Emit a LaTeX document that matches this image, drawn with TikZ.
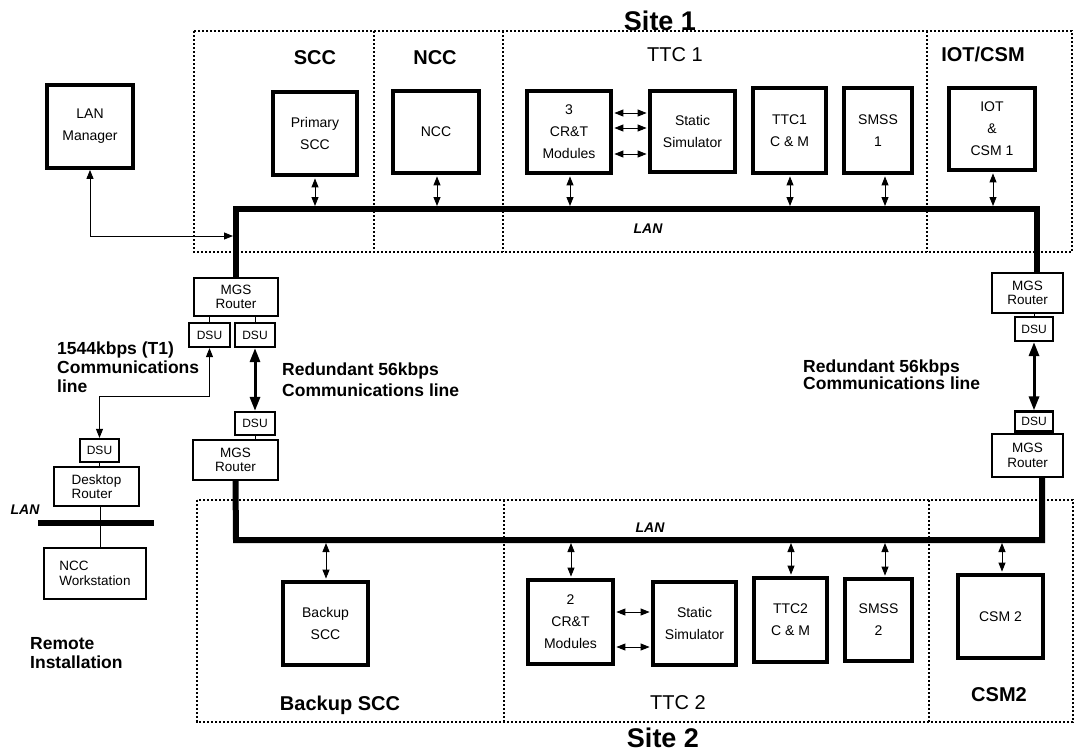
\documentclass[tikz,border=0pt]{standalone}
\usepackage{fontspec}
\setmainfont{Liberation Sans}
\usetikzlibrary{arrows.meta}
\begin{document}
\begin{tikzpicture}[x=1pt,y=-1pt,
  site/.style={draw, line width=1.4pt, dash pattern=on 2.2pt off 1.8pt},
  bigbox/.style={draw, line width=3.8pt, inner sep=0pt, align=center, font=\fontsize{14}{22}\selectfont},
  rtr/.style={draw, line width=2.2pt, inner sep=0pt, align=center, font=\fontsize{13.5}{14.5}\selectfont},
  dsu/.style={draw, line width=2.2pt, inner sep=0pt, font=\fontsize{12}{12}\selectfont},
  lan/.style={line width=6pt},
  dar/.style={{Triangle[length=9pt,width=7pt]}-{Triangle[length=9pt,width=7pt]}, line width=0.9pt},
  tdar/.style={{Triangle[length=14pt,width=10pt]}-{Triangle[length=14pt,width=10pt]}, line width=3pt},
  conn/.style={line width=0.8pt},
  hdr/.style={font=\fontsize{20}{22}\selectfont\bfseries},
  hdrr/.style={font=\fontsize{20}{22}\selectfont},
  ttl/.style={font=\fontsize{27}{29}\selectfont\bfseries},
  note/.style={font=\fontsize{17.5}{19}\selectfont\bfseries, align=left, inner sep=0pt},
  lanlbl/.style={font=\fontsize{14}{14}\selectfont\bfseries\itshape}
]
\useasboundingbox (0,0) rectangle (1076,753);

% site regions
\draw[site] (194,31) rectangle (1072,252);
\draw[site] (374,31) -- (374,252);
\draw[site] (503,31) -- (503,252);
\draw[site] (927,31) -- (927,252);
\draw[site] (197,500) rectangle (1073,722);
\draw[site] (504,500) -- (504,722);
\draw[site] (929,500) -- (929,722);

% titles and headers
\node[ttl, anchor=base, inner sep=0pt] (site1) at (660,30) {Site 1};
\node[ttl, anchor=base, inner sep=0pt] (site2) at (663,747) {Site 2};
\node[hdr] (hscc) at (315,58) {SCC};
\node[hdr] (hncc) at (435,58) {NCC};
\node[hdrr] (httc1) at (675,55) {TTC 1};
\node[hdr] (hiot) at (983,54) {IOT/CSM};
\node[hdr] (hbscc) at (340,705) {Backup SCC};
\node[hdrr] (httc2) at (678,703) {TTC 2};
\node[hdr] (hcsm2) at (999,695) {CSM2};

% Site 1 boxes
\node[bigbox, minimum width=86, minimum height=83] (lanman) at (90,126.5) {LAN\\Manager};
\node[bigbox, minimum width=84, minimum height=83] (pscc) at (315,133.5) {Primary\\SCC};
\node[bigbox, minimum width=86, minimum height=82] (ncc) at (436,132) {NCC};
\node[bigbox, minimum width=84, minimum height=82] (crt1) at (569,132) {3\\CR\&T\\Modules};
\node[bigbox, minimum width=85, minimum height=81] (ss1) at (692.5,131.5) {Static\\Simulator};
\node[bigbox, minimum width=73, minimum height=85] (ttcm1) at (789.5,130.5) {TTC1\\C \& M};
\node[bigbox, minimum width=68, minimum height=85] (smss1) at (878,130.5) {SMSS\\1};
\node[bigbox, minimum width=86, minimum height=82] (iot) at (992,129) {IOT\\\&\\CSM 1};

% Site 2 boxes
\node[bigbox, minimum width=85, minimum height=83] (bscc) at (325.5,623.5) {Backup\\SCC};
\node[bigbox, minimum width=85, minimum height=84] (crt2) at (570.5,622) {2\\CR\&T\\Modules};
\node[bigbox, minimum width=83, minimum height=83] (ss2) at (694.5,623.5) {Static\\Simulator};
\node[bigbox, minimum width=73, minimum height=84] (ttcm2) at (790.5,620) {TTC2\\C \& M};
\node[bigbox, minimum width=67, minimum height=82] (smss2) at (878.5,620) {SMSS\\2};
\node[bigbox, minimum width=85, minimum height=83] (csm2) at (1000.5,616.5) {CSM 2};

% routers and DSUs
\node[rtr, minimum width=84, minimum height=38] (mgsl1) at (236,297) {MGS\\Router};
\node[dsu, minimum width=41, minimum height=24] (dsua) at (209.5,335) {DSU};
\node[dsu, minimum width=40, minimum height=24] (dsub) at (255,335) {DSU};
\node[dsu, minimum width=40, minimum height=23] (dsuc) at (255,423.5) {DSU};
\node[rtr, minimum width=85, minimum height=40] (mgsl2) at (235.5,460) {MGS\\Router};
\node[rtr, minimum width=71, minimum height=40] (mgsr1) at (1027.5,293) {MGS\\Router};
\node[dsu, minimum width=38, minimum height=24] (dsud) at (1034,329) {DSU};
\node[dsu, minimum width=38, minimum height=20] (dsue) at (1034,421.5) {DSU};
\node[rtr, minimum width=71, minimum height=43] (mgsr2) at (1027.5,455.5) {MGS\\Router};

% remote installation
\node[dsu, minimum width=39, minimum height=23] (dsur) at (99.5,450.5) {DSU};
\node[rtr, minimum width=85, minimum height=39, align=left] (drtr) at (96.5,486.5) {Desktop\\Router};
\node[rtr, line width=1.8pt, minimum width=102, minimum height=51, align=left] (ws) at (95,573.5) {NCC\\Workstation};
\coordinate (rl1) at (38,523);
\coordinate (rl2) at (154,523);
\coordinate (rx) at (100,523);
\draw[lan] (rl1) -- (rl2);
\draw[conn] (drtr.south -| rx) -- (ws.north -| rx);
\draw[conn] (dsur.south) -- (drtr.north -| dsur.south);
\node[lanlbl] (rlan) at (25,510) {LAN};
\node[note, anchor=north west] (remote) at (30,637) {Remote\\Installation};

% LANs
\coordinate (c1) at (236,209);
\coordinate (c2) at (1037,209);
\coordinate (c3) at (236,540);
\coordinate (c4) at (1042,540);
\draw[lan] (mgsl1.north) -- (c1) -- (c2) -- (c2 |- mgsr1.north);
\draw[lan] (mgsl2.south) -- (c3) -- (c4) -- (c4 |- mgsr2.south);
\node[lanlbl] (lan1) at (648,229) {LAN};
\node[lanlbl] (lan2) at (650,528) {LAN};

% router-DSU links
\draw[conn] (mgsl1.south -| dsua.north) -- (dsua.north);
\draw[conn] (mgsl1.south -| dsub.north) -- (dsub.north);
\draw[conn] (dsuc.south) -- (mgsl2.north -| dsuc.south);
\draw[conn] (mgsr1.south -| dsud.north) -- (dsud.north);
\draw[conn] (dsue.south) -- (mgsr2.north -| dsue.south);

% communication lines
\draw[tdar] (dsub.south) -- (dsuc.north);
\draw[tdar] (dsud.south) -- (dsue.north);
\draw[dar] (dsua.south) -- ++(0,48) -| (dsur.north);
\coordinate (lmto) at (233,236);
\draw[dar] (lanman.south) |- (lmto);

\node[note, anchor=north west] (t1) at (57,342) {1544kbps (T1)\\Communications\\line};
\node[note, anchor=north west, font=\fontsize{17.5}{20.5}\selectfont\bfseries] (r56a) at (282,363) {Redundant 56kbps\\Communications line};
\node[note, anchor=north west, font=\fontsize{17.5}{16.5}\selectfont\bfseries] (r56b) at (803,360) {Redundant 56kbps\\Communications line};

% box-to-LAN arrows, site 1
\foreach \b/\x in {pscc/315, ncc/437, crt1/570, ttcm1/790, smss1/885, iot/993}{
  \coordinate (l1\b) at (\x,206);
  \draw[dar, shorten <=1.5pt] (\b.south -| l1\b) -- (l1\b);
}
% site 2
\foreach \b/\x in {bscc/326, crt2/571, ttcm2/791, smss2/885, csm2/1002}{
  \coordinate (l2\b) at (\x,543);
  \draw[dar, shorten <=1.5pt] (\b.north -| l2\b) -- (l2\b);
}

% CR&T <-> Static simulator
\foreach \y in {113,128,154}{
  \draw[dar, shorten <=1.5pt, shorten >=1.5pt] (crt1.east |- 0,\y) -- (ss1.west |- 0,\y);
}
\foreach \y in {612,647}{
  \draw[dar, shorten <=1.5pt, shorten >=1.5pt] (crt2.east |- 0,\y) -- (ss2.west |- 0,\y);
}
\end{tikzpicture}
\end{document}
